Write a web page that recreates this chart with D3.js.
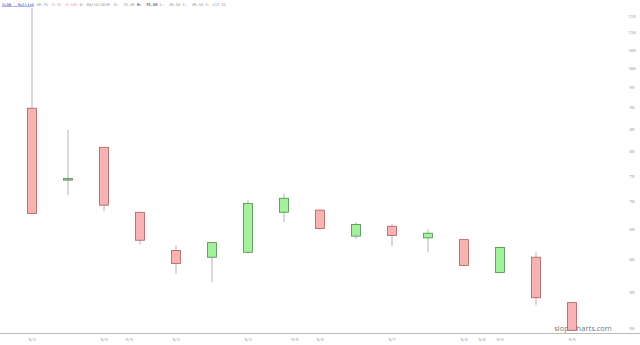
<!DOCTYPE html>
<html>
<head>
<meta charset="utf-8">
<script src="https://cdn.jsdelivr.net/npm/d3@7"></script>
<style>
  html, body { margin: 0; padding: 0; background: #fff; }
  svg { display: block; }
</style>
</head>
<body>
<div id="chart"></div>
<script>
// candle values
var opens  = [89.9, 74.5, 81.0, 68.1, 61.5, 60.4, 61.2, 68.1, 68.5, 63.9, 65.6, 63.6, 63.3, 58.0, 60.4, 53.5];
var highs  = [117.5, 84.8, 81.0, 68.1, 62.3, 62.8, 70.3, 71.6, 68.5, 66.3, 66.1, 65.1, 63.3, 62.0, 61.2, 53.5];
var lows   = [67.9, 71.3, 68.3, 62.5, 57.8, 56.5, 61.0, 66.3, 65.2, 63.4, 62.2, 61.2, 59.1, 58.0, 53.1, 49.7];
var closes = [67.9, 74.3, 69.4, 63.2, 59.4, 62.8, 69.7, 70.7, 65.2, 65.9, 64.0, 64.4, 59.1, 62.0, 54.2, 49.7];

var yTicks = [115, 110, 105, 100, 95, 90, 85, 80, 75, 70, 65, 60, 55, 50];

var xTickPos    = [0, 2, 2.7, 4, 6, 7.3, 8, 10, 12, 12.5, 13, 15];
var xTickLabels = ["9/3", "9/9", "9/9", "9/3", "9/3", "9/5", "9/6", "9/7", "9/8", "9/8", "9/9", "9/5"];

var header = [
  {t: "SLGN - Bullish", c: "#3a3ad0", u: true},
  {t: " 49.75 ", c: "#888"},
  {t: "-9.55 -9.33%", c: "#e89090"},
  {t: " D: 08/15/2019  O:  73.38 ", c: "#888"},
  {t: "H:  75.69", c: "#555", b: true},
  {t: " L:  48.33 C:  49.54 V: 217.51", c: "#888"}
];

var width = 640, height = 345;

var svg = d3.select("#chart").append("svg")
    .attr("width", width)
    .attr("height", height);

var x = d3.scaleLinear().domain([0, 15]).range([32, 572]);
var y = d3.scaleLog().domain([50, 115]).range([328, 16]);

var candleW = 9;

// x axis line and labels
svg.append("line")
    .attr("x1", 0).attr("x2", width)
    .attr("y1", 333.5).attr("y2", 333.5)
    .attr("stroke", "#bbb").attr("stroke-width", 1);

svg.append("g").selectAll("text")
    .data(xTickPos)
    .enter()
    .append("text")
    .attr("x", function(d){ return x(d); })
    .attr("y", 341)
    .attr("text-anchor", "middle")
    .attr("font-family", "DejaVu Sans Mono, monospace")
    .attr("font-size", "4px")
    .attr("fill", "#999")
    .text(function(d, i){ return xTickLabels[i]; });

// y labels on the right
svg.append("g").selectAll("text")
    .data(yTicks)
    .enter()
    .append("text")
    .attr("x", 632)
    .attr("y", function(d){ return y(d) + 1.5; })
    .attr("text-anchor", "middle")
    .attr("font-family", "DejaVu Sans Mono, monospace")
    .attr("font-size", "4px")
    .attr("fill", "#999")
    .text(function(d){ return d; });

// watermark
svg.append("text")
    .attr("x", 583).attr("y", 331)
    .attr("text-anchor", "middle")
    .attr("font-family", "Open Sans, sans-serif")
    .attr("font-size", "7.5px")
    .attr("fill", "#777")
    .text("slopecharts.com");

var candles = d3.range(opens.length);

var layer = svg.append("g").classed("candles", true);

// wicks
layer.selectAll(".wick")
    .data(candles)
    .enter()
    .append("line")
    .classed("wick", true)
    .attr("x1", function(i){ return x(i); })
    .attr("x2", function(i){ return x(i); })
    .attr("y1", function(i){ return y(highs[i]); })
    .attr("y2", function(i){ return y(lows[i]); })
    .attr("stroke", "#ccc")
    .attr("stroke-width", 1.5);

// bodies
layer.selectAll(".body")
    .data(candles)
    .enter()
    .append("rect")
    .classed("body", true)
    .attr("x", function(i){ return x(i) - candleW / 2; })
    .attr("y", function(i){ return y(Math.max(opens[i], closes[i])); })
    .attr("width", candleW)
    .attr("height", function(i){
	return Math.max(1.5, y(Math.min(opens[i], closes[i])) - y(Math.max(opens[i], closes[i])));
    })
    .attr("fill", function(i){ return closes[i] < opens[i] && opens[i] - closes[i] > 0.5 ? "#f7b3b3" : (opens[i] - closes[i] > 0 ? "#9fc39a" : "#a4f09c"); })
    .attr("stroke", function(i){ return closes[i] < opens[i] && opens[i] - closes[i] > 0.5 ? "#b05a5a" : "#4f8a4a"; })
    .attr("stroke-width", 0.8);

// header line
var head = svg.append("text")
    .attr("x", 2).attr("y", 5.5)
    .attr("font-family", "DejaVu Sans Mono, monospace")
    .attr("font-size", "3.8px")
    .attr("xml:space", "preserve");

head.selectAll("tspan")
    .data(header)
    .enter()
    .append("tspan")
    .attr("fill", function(d){ return d.c; })
    .attr("font-weight", function(d){ return d.b ? "bold" : null; })
    .attr("text-decoration", function(d){ return d.u ? "underline" : null; })
    .text(function(d){ return d.t; });
</script>
</body>
</html>
